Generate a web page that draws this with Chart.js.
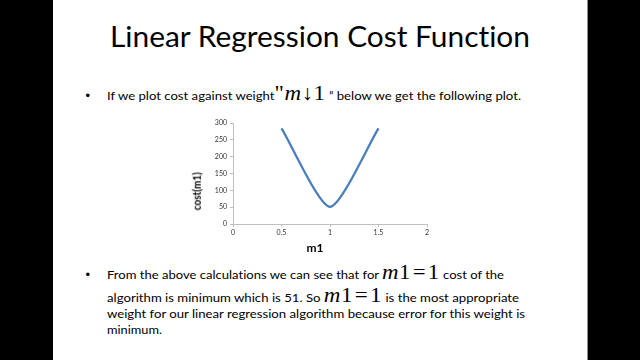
<!DOCTYPE html>
<html><head><meta charset="utf-8">
<script src="https://cdn.jsdelivr.net/npm/chart.js@4.4.1/dist/chart.umd.min.js"></script>
<style>
html,body{margin:0;padding:0;background:#000;width:640px;height:360px;overflow:hidden}
#slide{position:absolute;left:53px;top:0;width:534px;height:360px;background:#fff;border-right:1px solid #8a8a8a}
.ln{position:absolute;left:0;top:0;white-space:nowrap;font-family:Lato,"Open Sans",sans-serif;color:#000;transform-origin:0 0;line-height:1.2;font-variant-ligatures:none;font-feature-settings:"liga" 0,"clig" 0}
.mk{display:inline-block;width:0;height:0}
.mt{font-family:"Liberation Serif","DejaVu Serif",serif;font-size:21px;letter-spacing:0.5px}
.mt i{font-style:italic}
.eq{margin:0 1.5px}
.bul{font-family:"Liberation Sans",sans-serif;font-size:13px}
#chartbox{position:absolute;left:180px;top:110px;width:260px;height:140px}
</style></head>
<body>
<div id="slide"></div>
<div class="ln" data-x="110" data-b="47" data-w="420" style="font-size:29px">Linear Regression Cost Function</div>

<div class="ln bul" data-x="85.5" data-b="100">•</div>
<div class="ln" data-x="107" data-b="100" data-w="414" style="font-size:12px">If we plot cost against weight<span class="mt">"<i>m</i>↓1</span> <span style="font-size:11px">”</span> below we get the following plot.</div>

<div class="ln bul" data-x="85.5" data-b="279">•</div>
<div class="ln" data-x="107" data-b="279" data-w="397" style="font-size:12px">From the above calculations we can see that for <span class="mt"><i>m</i>1<span class="eq">=</span>1</span> cost of the</div>
<div class="ln" data-x="107" data-b="301.5" data-w="412" style="font-size:12px">algorithm is minimum which is 51. So <span class="mt"><i>m</i>1<span class="eq">=</span>1</span> is the most appropriate</div>
<div class="ln" data-x="107" data-b="317.5" data-w="418" style="font-size:12px">weight for our linear regression algorithm because error for this weight is</div>
<div class="ln" data-x="107" data-b="334" data-w="55" style="font-size:12px">minimum.</div>

<div id="chartbox"><canvas id="c" width="260" height="140"></canvas></div>
<div class="ln" id="xt" data-cx="315" data-b="251.5" style="font-size:12px;font-weight:700">m1</div>
<div class="ln" id="yt" style="font-size:10.5px;font-weight:700">cost(m1)</div>

<script>
// ---- data ----
const m1Values   = [0.5, 1, 1.5];
const costValues = [284, 51, 284];
const xTickValues = [0, 0.5, 1, 1.5, 2];
const xTickLabels = ['0', '0.5', '1', '1.5', '2'];
const yTickValues = [0, 50, 100, 150, 200, 250, 300];
const yTickLabels = ['0', '50', '100', '150', '200', '250', '300'];
const seriesColor = '#4a7ebb';

// ---- text placement (baseline + width fit) ----
document.querySelectorAll('.ln').forEach(el => {
  if (el.id === 'yt') return;
  const mk = document.createElement('span');
  mk.className = 'mk';
  el.insertBefore(mk, el.firstChild);
  const r = el.getBoundingClientRect();
  const m = mk.getBoundingClientRect();
  let x = el.dataset.cx ? (+el.dataset.cx - r.width / 2) : +el.dataset.x;
  el.style.left = x + 'px';
  el.style.top = (+el.dataset.b - m.top) + 'px';
  if (el.dataset.w) el.style.transform = 'scaleX(' + (+el.dataset.w / r.width) + ')';
});
(function(){
  const el = document.getElementById('yt');
  const r = el.getBoundingClientRect();
  el.style.transformOrigin = '50% 50%';
  el.style.left = (197.5 - r.width / 2) + 'px';
  el.style.top = (191 - r.height / 2) + 'px';
  el.style.transform = 'rotate(-90deg) scaleX(' + (38 / r.width) + ')';
})();

// ---- chart ----
const pts = m1Values.map((v, i) => ({x: v, y: costValues[i]}));
const axisColor = '#bfbfbf';
const tickFont = {family: 'Lato', size: 7};
new Chart(document.getElementById('c'), {
  type: 'scatter',
  data: {datasets: [{
    data: pts, showLine: true, borderColor: seriesColor, backgroundColor: seriesColor,
    borderWidth: 2.25, pointRadius: 0, tension: 0.22, fill: false
  }]},
  options: {
    responsive: false, animation: false, devicePixelRatio: 1,
    layout: {autoPadding: false, padding: {top: 13, right: 13, left: 0, bottom: 0}},
    plugins: {legend: {display: false}, tooltip: {enabled: false}, title: {display: false}},
    scales: {
      x: {
        type: 'linear', min: 0, max: 2,
        afterBuildTicks: s => { s.ticks = xTickValues.map(v => ({value: v})); },
        afterFit: s => { s.height = 26; },
        grid: {drawOnChartArea: false, drawTicks: true, tickLength: 3, color: axisColor},
        border: {display: true, color: axisColor, width: 1},
        ticks: {font: tickFont, color: '#333', padding: 2, maxRotation: 0, autoSkip: false,
                callback: (v, i) => xTickLabels[i]}
      },
      y: {
        type: 'linear', min: 0, max: 300,
        afterBuildTicks: s => { s.ticks = yTickValues.map(v => ({value: v})); },
        afterFit: s => { s.width = 53; },
        grid: {drawOnChartArea: false, drawTicks: true, tickLength: 3, color: axisColor},
        border: {display: true, color: axisColor, width: 1},
        ticks: {font: tickFont, color: '#333', padding: 3, autoSkip: false,
                callback: (v, i) => yTickLabels[i]}
      }
    }
  }
});
</script>
</body></html>
